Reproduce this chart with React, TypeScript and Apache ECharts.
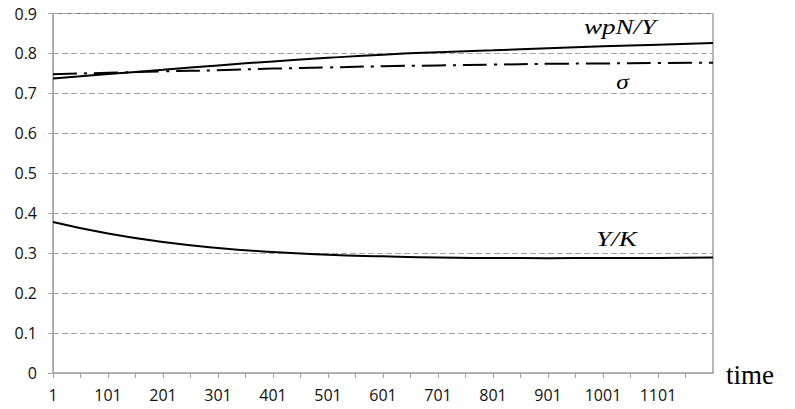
import React, { useEffect, useRef } from "react";
import * as echarts from "echarts";

const timePoints = [1, 101, 201, 301, 401, 501, 601, 701, 801, 901, 1001, 1101, 1201];
const wpNY = [0.737, 0.7485, 0.759, 0.77, 0.78, 0.789, 0.797, 0.803, 0.808, 0.813, 0.818, 0.822, 0.826];
const sigma = [0.748, 0.7515, 0.755, 0.758, 0.762, 0.765, 0.768, 0.77, 0.772, 0.774, 0.775, 0.776, 0.777];
const yK = [0.378, 0.349, 0.328, 0.313, 0.303, 0.296, 0.292, 0.289, 0.288, 0.2875, 0.2878, 0.288, 0.289];
const xLabelValues = [1, 101, 201, 301, 401, 501, 601, 701, 801, 901, 1001, 1101];
const xTickValues = [1, 51, 101, 151, 201, 251, 301, 351, 401, 451, 501, 551, 601, 651, 701, 751, 801, 851, 901, 951, 1001, 1051, 1101, 1151];

const pairs = (ys: number[]) => timePoints.map((t, i) => [t, ys[i]]);

export default function App() {
  const ref = useRef<HTMLDivElement>(null);
  useEffect(() => {
    if (!ref.current) return;
    const chart = echarts.init(ref.current, undefined, { renderer: "svg" });
    const lineBase = { type: "line", smooth: true, showSymbol: false, symbol: "none", z: 5 };
    chart.setOption({
      animation: false,
      backgroundColor: "#fff",
      grid: {
        left: 53,
        right: 82,
        top: 13.5,
        bottom: 36,
        show: true,
        borderColor: "#6e6e6e",
        borderWidth: 1,
        backgroundColor: "transparent",
      },
      xAxis: {
        type: "value",
        min: 1,
        max: 1201,
        axisLine: { show: true, lineStyle: { color: "#a6a6a6", width: 1 } },
        axisTick: { show: true, length: 5, customValues: xTickValues, lineStyle: { color: "#a6a6a6" } },
        axisLabel: {
          customValues: xLabelValues,
          margin: 14,
          fontFamily: "Open Sans",
          fontSize: 16,
          color: "#111",
          formatter: (v: number) => String(v),
        },
        splitLine: { show: false },
      },
      yAxis: {
        type: "value",
        min: 0,
        max: 0.9,
        interval: 0.1,
        axisLine: { show: true, lineStyle: { color: "#a6a6a6", width: 1 } },
        axisTick: { show: true, length: 5, lineStyle: { color: "#a6a6a6" } },
        axisLabel: {
          margin: 16,
          fontFamily: "Open Sans",
          fontSize: 16,
          color: "#111",
          formatter: (v: number) => (Math.round(v * 10) / 10).toString(),
        },
        splitLine: { show: true, lineStyle: { color: "#a6a6a6", type: [6, 3], width: 1 } },
      },
      series: [
        { ...lineBase, name: "wpN/Y", data: pairs(wpNY), lineStyle: { color: "#000", width: 2 } },
        { ...lineBase, name: "σ", data: pairs(sigma), lineStyle: { color: "#000", width: 2, type: [24, 7, 3, 7] } },
        { ...lineBase, name: "Y/K", data: pairs(yK), lineStyle: { color: "#000", width: 2 } },
      ],
      graphic: [
        {
          type: "text",
          x: 620,
          y: 27.6,
          scaleX: 1.35,
          style: { text: "wpN/Y", fontFamily: "Liberation Serif", fontStyle: "italic", fontSize: 20, fill: "#000", textAlign: "center", textVerticalAlign: "middle" },
        },
        {
          type: "text",
          x: 622.5,
          y: 81.7,
          scaleX: 1.15,
          style: { text: "σ", fontFamily: "Liberation Serif", fontStyle: "italic", fontSize: 22, fill: "#000", textAlign: "center", textVerticalAlign: "middle" },
        },
        {
          type: "text",
          x: 616.5,
          y: 238.7,
          scaleX: 1.3,
          style: { text: "Y/K", fontFamily: "Liberation Serif", fontStyle: "italic", fontSize: 21, fill: "#000", textAlign: "center", textVerticalAlign: "middle" },
        },
        {
          type: "text",
          x: 750,
          y: 375,
          style: { text: "time", fontFamily: "Liberation Serif", fontSize: 27, fill: "#000", textAlign: "center", textVerticalAlign: "middle" },
        },
      ],
    });
    return () => chart.dispose();
  }, []);
  return <div ref={ref} style={{ width: 795, height: 409, position: "absolute", left: 0, top: 0 }} />;
}
